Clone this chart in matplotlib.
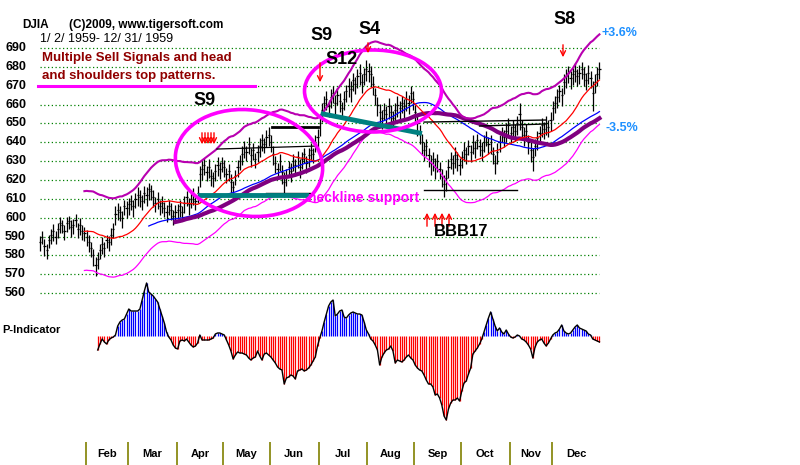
import numpy as np
import pandas as pd
import matplotlib
matplotlib.use("Agg")
import matplotlib.pyplot as plt
from matplotlib.patches import Ellipse

plt.rcParams['font.family'] = ['Liberation Sans', 'DejaVu Sans']

# month labels and first trading-day index of each month
months = ["Feb", "Mar", "Apr", "May", "Jun", "Jul", "Aug", "Sep", "Oct", "Nov", "Dec"]
month_start = [21, 40, 62, 83, 104, 126, 148, 169, 190, 212, 231]

# DJIA daily closes 1959
close = [
    587, 590, 585, 583, 588, 591, 593, 590, 594, 597, 596, 593, 597, 598, 595, 596, 599, 594, 596, 593, 592,
    590, 587, 584, 580, 575, 578, 583, 586, 584, 588, 587, 591, 594, 602, 604, 603, 600, 606, 605,
    607, 609, 606, 610, 612, 611, 609, 613, 612, 615, 614, 611, 608, 610, 606, 608, 605, 603, 606, 604, 601, 603,
    604, 606, 603, 608, 611, 607, 610, 612, 609, 613, 623, 626, 628, 624, 627, 622, 621, 625, 628, 626, 629,
    627, 623, 625, 619, 616, 622, 627, 630, 634, 637, 635, 639, 633, 636, 631, 635, 638, 641, 639, 643, 644,
    640, 634, 629, 626, 630, 624, 619, 622, 627, 625, 630, 628, 632, 627, 631, 634, 629, 633, 636, 634, 640, 643,
    650, 657, 661, 663, 659, 664, 666, 661, 665, 662, 658, 663, 667, 670, 668, 673, 671, 675, 677, 672, 676, 679,
    678, 676, 671, 665, 660, 656, 653, 657, 655, 659, 656, 653, 657, 660, 658, 661, 659, 663, 661, 666, 663,
    656, 650, 645, 640, 636, 638, 633, 629, 631, 627, 630, 626, 622, 618, 621, 627, 631, 629, 633, 631, 628,
    632, 636, 634, 638, 635, 640, 637, 641, 638, 636, 640, 643, 639, 640, 634, 629, 635, 640, 645, 643, 646, 649,
    645, 648, 646, 650, 655, 648, 644, 646, 640, 636, 632, 638, 642, 645, 649, 647, 650, 648, 652,
    658, 661, 664, 667, 665, 672, 675, 677, 674, 676, 678, 675, 677, 679, 676, 673, 677, 674, 666, 672, 676, 679,
]
# daily high-low range
rng = [
    8, 7, 9, 8, 7, 8, 9, 7, 8, 9, 7, 8, 8, 7, 9, 8, 7, 8, 9, 8, 7,
    8, 9, 8, 9, 10, 9, 8, 9, 8, 7, 8, 9, 8, 10, 9, 8, 9, 8, 9,
    9, 8, 9, 8, 10, 9, 8, 9, 10, 9, 8, 9, 8, 9, 8, 9, 8, 9, 8, 9, 8, 9,
    8, 9, 8, 9, 8, 9, 8, 9, 8, 9, 11, 10, 9, 8, 10, 9, 8, 9, 10, 9, 8,
    9, 8, 9, 10, 9, 8, 9, 8, 10, 9, 8, 9, 10, 9, 8, 9, 10, 9, 8, 9, 10,
    9, 10, 9, 8, 9, 10, 13, 9, 8, 10, 9, 8, 9, 10, 9, 8, 9, 10, 9, 8, 9, 10,
    11, 10, 9, 10, 9, 10, 9, 10, 9, 10, 9, 10, 9, 10, 11, 10, 9, 10, 11, 10, 9, 11,
    10, 11, 10, 9, 10, 11, 10, 9, 10, 11, 10, 9, 10, 11, 10, 9, 10, 11, 10, 9, 10,
    10, 11, 10, 11, 10, 9, 10, 11, 10, 11, 10, 9, 10, 12, 11, 10, 9, 10, 11, 10, 9,
    9, 10, 9, 8, 9, 10, 9, 8, 9, 10, 9, 8, 9, 10, 9, 10, 11, 9, 8, 9, 10, 9,
    9, 10, 9, 10, 14, 9, 10, 9, 10, 11, 12, 9, 10, 9, 10, 9, 10, 9, 10,
    10, 9, 10, 9, 10, 11, 10, 9, 10, 9, 10, 9, 10, 9, 10, 9, 10, 9, 16, 10, 10, 9,
]

# P-Indicator, starting at trading day 26
p_start = 26
p_ind = [
    -14, -8, -3, -6, -8, -4, -2, -1, 1, 10,
    14, 16, 17, 22, 27, 25, 25, 25, 25, 27,
    36, 45, 53, 44, 42, 40, 37, 34, 27, 20,
    13, 4, -1, -4, -9, -12, -13, -5, -4, -5,
    -3, -6, -9, -11, -10, -7, 1, -4, -4, -4,
    -4, -3, -2, 2, 3, 3, 2, 1, -4, -9,
    -15, -23, -19, -16, -17, -17, -18, -19, -22, -24,
    -22, -21, -15, -20, -24, -18, -17, -19, -21, -24,
    -27, -31, -33, -34, -48, -42, -41, -39, -40, -43,
    -35, -34, -33, -35, -34, -32, -29, -25, -21, -10,
    -2, 5, 14, 22, 30, 34, 36, 20, 22, 25,
    26, 19, 18, 21, 23, 24, 23, 22, 22, 21,
    14, 6, 2, -3, -5, -9, -14, -29, -21, -17,
    -14, -13, -10, -15, -27, -24, -25, -26, -24, -21,
    -19, -22, -24, -29, -32, -34, -35, -39, -44, -48,
    -48, -51, -59, -58, -62, -69, -80, -84, -73, -67,
    -64, -64, -62, -65, -55, -47, -45, -38, -32, -18,
    -15, -12, -8, -3, 4, 11, 18, 24, 17, 10,
    5, 8, 4, 2, 6, 2, -1, -2, -1, 1,
    0, -3, -4, -6, -9, -13, -22, -11, -6, -4,
    -3, -7, -10, -7, -3, 1, 3, 4, 7, 11,
    5, 3, 2, 3, 6, 9, 11, 8, 7, 6,
    5, 2, 1, -3, -4, -5, -6,
]

price_ticks = list(range(560, 700, 10))

c = np.array(close, float)
r = np.array(rng, float)
days = np.arange(len(c))
lo = c - 0.6 * r
hi = c + 0.4 * r
s = pd.Series(c)
ma21 = s.rolling(21).mean()
ma50 = s.rolling(50).mean()
ma62 = s.rolling(62).mean()
band_up = ma21 * 1.036
band_dn = ma21 * 0.965

W, H = 800, 465
X0, XS = 40, 2.22          # pixel of day 0, pixels per day
PY0, PS = 48, 1.885        # pixel of 690, pixels per point
xlim = (-X0 / XS, (W - X0) / XS)

fig = plt.figure(figsize=(8, 4.65), dpi=100)

# price panel (top 300 px)
ax = fig.add_axes([0, 1 - 300 / H, 1, 300 / H])
ax.set_xlim(xlim)
ax.set_ylim(690 - (300 - PY0) / PS, 690 + PY0 / PS)
ax.axis('off')

ax.hlines(price_ticks, 0, len(c) - 1, colors='#008000', linestyles=(0, (1, 2)), lw=0.9, zorder=1)
for p in price_ticks:
    ax.text(5 / W, p, str(p), transform=ax.get_yaxis_transform(), fontsize=9,
            fontweight='bold', va='center', ha='left')

ax.vlines(days, lo, hi, color='black', lw=0.9, zorder=3)
ax.hlines(c, days - 0.5, days + 0.5, color='black', lw=0.9, zorder=3)

ax.plot(days, band_dn, color='#FF00FF', lw=0.9, zorder=4)
ax.plot(days, ma50, color='#0000FF', lw=0.9, zorder=4)
ax.plot(days, ma62, color='#800080', lw=3, zorder=4)
ax.plot(days, ma21, color='#FF0000', lw=0.9, zorder=4)
ax.plot(days, band_up, color='#B800B0', lw=1.5, zorder=4)

# trend / neckline lines
ax.plot([79.7, 124.8], [636.4, 638.0], color='black', lw=0.9, zorder=4)
ax.plot([104.5, 125.2], [648.1, 648.1], color='black', lw=2, zorder=4)
ax.plot([102, 121.6], [613.1, 613.1], color='black', lw=1, zorder=4)
ax.plot([173, 215], [614.5, 614.5], color='black', lw=1, zorder=4)
ax.plot([173, 228], [650.7, 651.8], color='black', lw=1, zorder=4)
ax.plot([198, 228], [648.6, 649.7], color='black', lw=1, zorder=4)
ax.plot([72, 120], [612.0, 612.0], color='#008080', lw=3.5, zorder=5)
ax.plot([127.5, 171], [655.0, 644.9], color='#008080', lw=3.5, zorder=5)

# P-Indicator panel
pa = fig.add_axes([0, 1 - 440 / H, 1, 170 / H])
pa.set_xlim(xlim)
pa.set_ylim(-104, 66)
pa.axis('off')
pv = np.array(p_ind, float)
pd_days = np.arange(p_start, p_start + len(pv))
cols = ['#0000FF' if v > 0 else '#FF0000' for v in pv]
pa.vlines(pd_days, 0, pv, colors=cols, lw=0.9)
pa.plot(pd_days, pv, color='black', lw=1)
pa.text(2 / W, 6, "P-Indicator", transform=pa.get_yaxis_transform(), fontsize=8,
        fontweight='bold', va='center', ha='left')

# month axis
ma = fig.add_axes([0, 0, 1, 25 / H])
ma.set_xlim(xlim)
ma.set_ylim(0, 25)
ma.axis('off')
edges = [m - 0.5 for m in month_start] + [len(c) - 0.5]
ma.vlines(edges[:-1], 0, 23, color='#808000', lw=1.2)
for i, m in enumerate(months):
    ma.text((edges[i] + edges[i + 1]) / 2, 11, m, fontsize=8, fontweight='bold',
            ha='center', va='center')

# overlay in pixel coordinates for annotations
ov = fig.add_axes([0, 0, 1, 1], zorder=10)
ov.set_xlim(0, W)
ov.set_ylim(H, 0)
ov.axis('off')
ov.patch.set_alpha(0)

ov.text(22, 25, "DJIA", fontsize=8.5, fontweight='bold', va='center')
ov.text(69, 25, "(C)2009, www.tigersoft.com", fontsize=8.5, fontweight='bold', va='center')
ov.text(40, 39, "1/ 2/ 1959- 12/ 31/ 1959", fontsize=9, va='center')
ov.text(42, 58, "Multiple Sell Signals and head", fontsize=9.5, fontweight='bold',
        color='#900000', va='center')
ov.text(42, 76, "and shoulders top patterns.", fontsize=9.5, fontweight='bold',
        color='#900000', va='center')
ov.plot([38, 255], [86, 86], color='#FF00FF', lw=2.2)

for x, y, t in [(193, 100, "S9"), (310, 36, "S9"), (325, 59, "S12"), (358, 30, "S4"), (553, 20, "S8")]:
    ov.text(x, y, t, fontsize=13, fontweight='bold', va='center', ha='left')

ov.text(602, 33, "+3.6%", fontsize=9, fontweight='bold', color='#1E90FF', va='center')
ov.text(605, 128, "-3.5%", fontsize=9, fontweight='bold', color='#1E90FF', va='center')
ov.text(308, 198, "neckline support", fontsize=10, fontweight='bold', color='#FF00FF', va='center')

for x, y1, y2 in [(202, 130, 147), (205, 130, 147), (208, 130, 147), (211, 130, 147), (214, 130, 147),
                  (320, 60, 85), (368, 40, 56), (563, 42, 60)]:
    ov.annotate('', xy=(x, y2), xytext=(x, y1),
                arrowprops=dict(arrowstyle='->', color='red', lw=1, mutation_scale=9))
for x in [427, 435, 442, 449]:
    ov.annotate('', xy=(x, 210), xytext=(x, 229),
                arrowprops=dict(arrowstyle='->', color='red', lw=1, mutation_scale=9))
ov.text(434, 231, "BBB17", fontsize=12, fontweight='bold', va='center', ha='left')

ov.add_patch(Ellipse((249, 163), 148, 106, angle=8, fill=False, ec='#FF00FF', lw=2.6))
ov.add_patch(Ellipse((373, 91), 137, 82, angle=0, fill=False, ec='#FF00FF', lw=2.6))

fig.savefig("out.png", dpi=100, facecolor='white')
